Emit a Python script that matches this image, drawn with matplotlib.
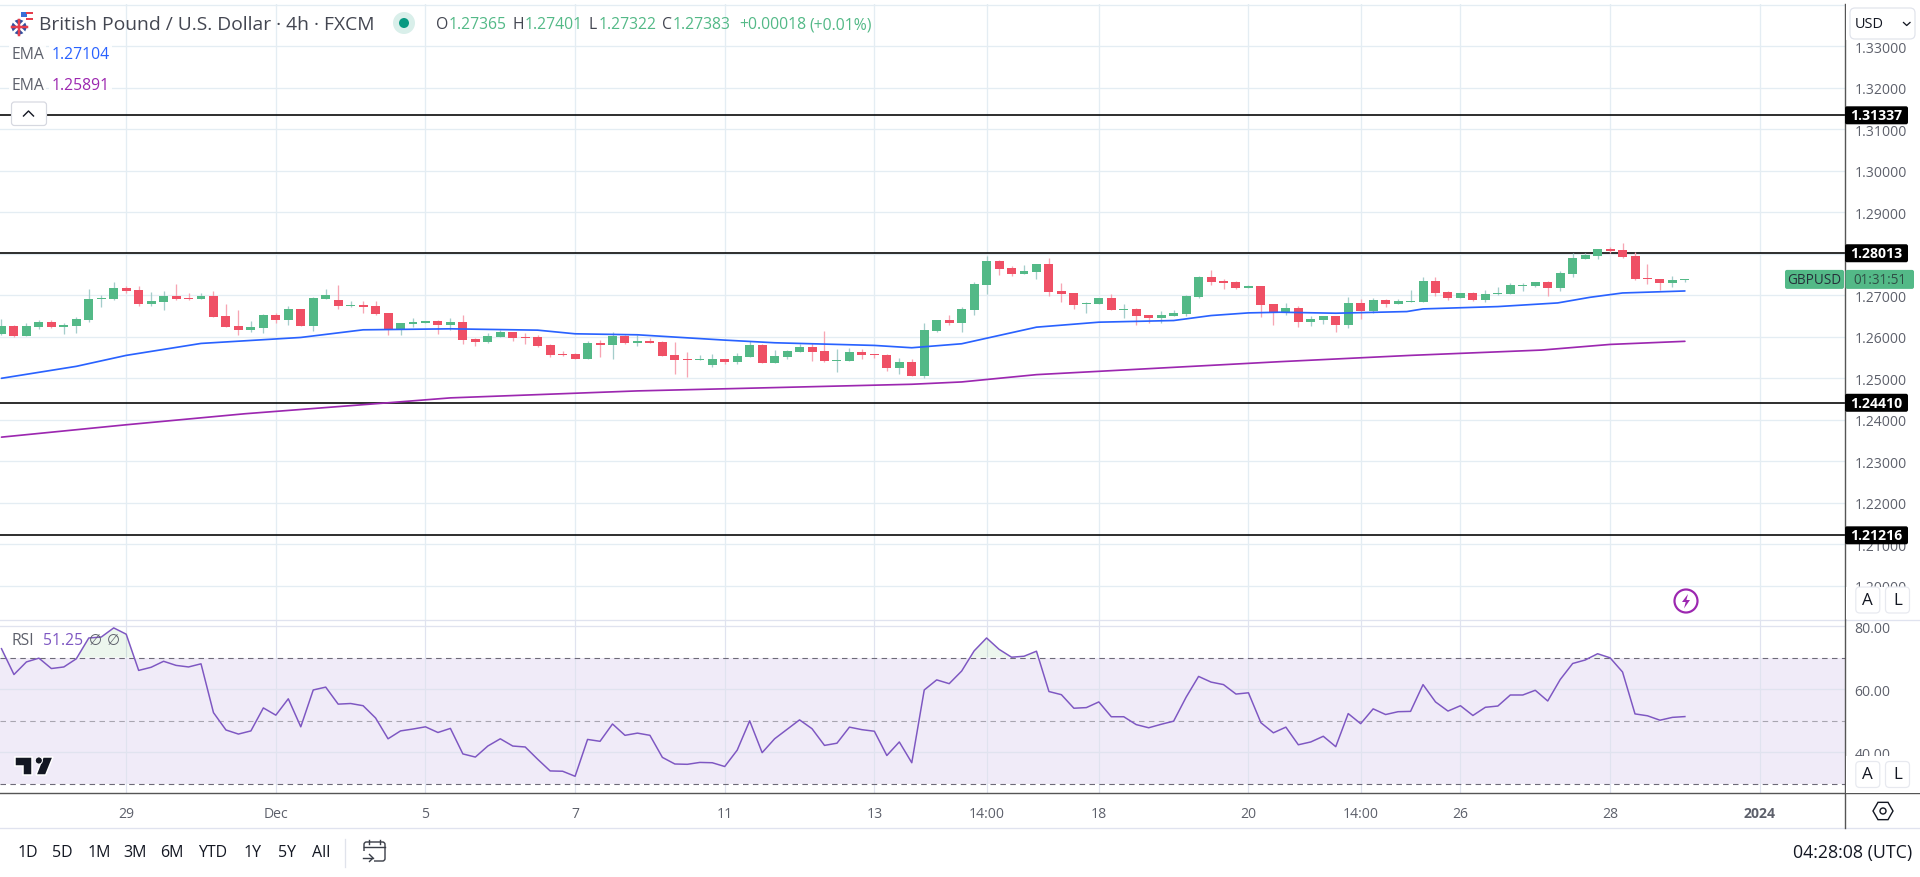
import matplotlib
matplotlib.use("Agg")
import matplotlib.pyplot as plt
import numpy as np
from matplotlib.patches import FancyBboxPatch, Circle, Rectangle, Polygon, RegularPolygon

plt.rcParams['font.family'] = ['Open Sans', 'DejaVu Sans']

opens = [1.26072,1.26264,1.26024,1.26240,1.26360,1.26240,1.26264,1.26408,1.26912,1.26912,
 1.27176,1.27128,1.26792,1.26840,1.26984,1.26936,1.26912,1.26984,1.26504,1.26264,
 1.26168,1.26216,1.26528,1.26408,1.26672,1.26264,1.26912,1.26888,1.26744,1.26768,
 1.26744,1.26576,1.26192,1.26312,1.26336,1.26384,1.26288,1.26360,1.25952,1.25880,
 1.26000,1.26120,1.26000,1.26000,1.25808,1.25592,1.25592,1.25472,1.25856,1.25808,
 1.26024,1.25856,1.25904,1.25880,1.25568,1.25472,1.25448,1.25328,1.25472,1.25400,
 1.25520,1.25808,1.25376,1.25520,1.25640,1.25760,1.25664,1.25424,1.25424,1.25640,
 1.25592,1.25568,1.25256,1.25400,1.25064,1.26144,1.26408,1.26336,1.26648,1.27248,
 1.27824,1.27656,1.27512,1.27560,1.27752,1.27104,1.27056,1.26792,1.26792,1.26936,
 1.26648,1.26672,1.26528,1.26456,1.26504,1.26552,1.26960,1.27440,1.27344,1.27320,
 1.27176,1.27224,1.26792,1.26576,1.26696,1.26360,1.26408,1.26504,1.26288,1.26816,
 1.26624,1.26888,1.26792,1.26840,1.26840,1.27344,1.27080,1.26936,1.27056,1.26888,
 1.27032,1.27032,1.27224,1.27224,1.27320,1.27176,1.27512,1.27872,1.27944,1.28112,
 1.28088,1.27944,1.27416,1.27392,1.27296,1.27365]
highs = [1.26432,1.26288,1.26328,1.26408,1.26408,1.26328,1.26480,1.27152,1.27008,1.27320,
 1.27224,1.27224,1.27080,1.27104,1.27272,1.27056,1.27056,1.27104,1.26792,1.26648,
 1.26384,1.26552,1.26576,1.26744,1.26672,1.26960,1.27152,1.27248,1.26864,1.26864,
 1.26864,1.26576,1.26336,1.26456,1.26384,1.26408,1.26456,1.26528,1.25976,1.26096,
 1.26152,1.26120,1.26096,1.26048,1.25832,1.25664,1.25616,1.25904,1.25928,1.26120,
 1.26048,1.26048,1.25976,1.25904,1.25880,1.25640,1.25568,1.25592,1.25472,1.25616,
 1.25904,1.25832,1.25688,1.25688,1.25832,1.25856,1.26144,1.25712,1.25736,1.25712,
 1.25592,1.25592,1.25496,1.25472,1.26336,1.26408,1.26528,1.26720,1.27320,1.27944,
 1.27848,1.27704,1.27728,1.27752,1.27896,1.27296,1.27056,1.26840,1.26936,1.27032,
 1.26792,1.26696,1.26528,1.26624,1.26648,1.27008,1.27464,1.27608,1.27392,1.27344,
 1.27240,1.27224,1.26792,1.26816,1.26744,1.26504,1.26504,1.26504,1.26960,1.26912,
 1.26936,1.26912,1.26912,1.27128,1.27440,1.27440,1.27104,1.27056,1.27080,1.27128,
 1.27200,1.27296,1.27296,1.27320,1.27344,1.27584,1.28016,1.28016,1.28112,1.28160,
 1.28256,1.28040,1.27752,1.27392,1.27464,1.27401]
lows = [1.26032,1.26000,1.26024,1.26192,1.26216,1.26072,1.26096,1.26360,1.26720,1.26888,
 1.27056,1.26744,1.26744,1.26648,1.26888,1.26888,1.26912,1.26480,1.26240,1.26048,
 1.26120,1.26096,1.26336,1.26288,1.26264,1.26144,1.26912,1.26672,1.26720,1.26576,
 1.26528,1.26048,1.26048,1.26240,1.26336,1.26072,1.26168,1.25832,1.25784,1.25856,
 1.26000,1.25904,1.25832,1.25760,1.25520,1.25544,1.25472,1.25472,1.25520,1.25472,
 1.25832,1.25784,1.25856,1.25544,1.25112,1.25040,1.25448,1.25280,1.25352,1.25352,
 1.25520,1.25376,1.25376,1.25472,1.25640,1.25424,1.25400,1.25160,1.25424,1.25472,
 1.25496,1.25184,1.25112,1.25064,1.25016,1.26120,1.26288,1.26120,1.26528,1.27032,
 1.27488,1.27464,1.27512,1.27392,1.26984,1.26840,1.26672,1.26576,1.26792,1.26648,
 1.26456,1.26288,1.26336,1.26336,1.26504,1.26504,1.26936,1.27248,1.27152,1.27152,
 1.27176,1.26480,1.26288,1.26528,1.26240,1.26264,1.26312,1.26120,1.26216,1.26432,
 1.26576,1.26720,1.26792,1.26840,1.26840,1.26984,1.26888,1.26936,1.26864,1.26840,
 1.27008,1.27032,1.27104,1.27200,1.26984,1.27104,1.27440,1.27872,1.27872,1.28016,
 1.27896,1.27368,1.27272,1.27128,1.27200,1.27322]
closes = [1.26264,1.26024,1.26264,1.26360,1.26240,1.26288,1.26432,1.26912,1.26936,1.27176,
 1.27104,1.26792,1.26864,1.26984,1.26912,1.26912,1.26984,1.26480,1.26240,1.26168,
 1.26240,1.26528,1.26408,1.26672,1.26264,1.26936,1.27008,1.26744,1.26768,1.26720,
 1.26552,1.26192,1.26336,1.26360,1.26384,1.26288,1.26360,1.25928,1.25880,1.26024,
 1.26120,1.25976,1.25976,1.25784,1.25568,1.25568,1.25472,1.25856,1.25808,1.26024,
 1.25856,1.25904,1.25856,1.25544,1.25448,1.25448,1.25472,1.25472,1.25400,1.25544,
 1.25808,1.25376,1.25544,1.25664,1.25760,1.25640,1.25424,1.25448,1.25640,1.25568,
 1.25568,1.25256,1.25400,1.25064,1.26168,1.26408,1.26336,1.26672,1.27272,1.27824,
 1.27632,1.27512,1.27584,1.27752,1.27080,1.27032,1.26768,1.26816,1.26936,1.26648,
 1.26672,1.26504,1.26456,1.26528,1.26576,1.26984,1.27440,1.27320,1.27296,1.27176,
 1.27224,1.26768,1.26576,1.26696,1.26360,1.26432,1.26504,1.26288,1.26816,1.26624,
 1.26888,1.26792,1.26864,1.26864,1.27344,1.27056,1.26936,1.27056,1.26888,1.27032,
 1.27056,1.27248,1.27248,1.27320,1.27176,1.27536,1.27896,1.27968,1.28112,1.28064,
 1.27920,1.27392,1.27392,1.27296,1.27368,1.27383]

ema_fast_bars = [0,6,10,16,24,29,36,43,46,51,58,62,70,73,77,80,83,88,94,97,100,102.5,107,112.7,114,120,124.8,127.4,130,135]
ema_fast = [1.25000,1.25288,1.25552,1.25840,1.25984,1.26168,1.26192,1.26160,1.26072,1.26048,
 1.25920,1.25856,1.25792,1.25736,1.25832,1.26032,1.26232,1.26352,1.26392,1.26512,
 1.26576,1.26592,1.26568,1.26608,1.26672,1.26728,1.26816,1.26952,1.27056,1.27104]
ema_slow_bars = [0,10,19.5,31,36,51,73,77,83,102.5,113,123.5,129,135]
ema_slow = [1.23582,1.23880,1.24145,1.24410,1.24528,1.24696,1.24856,1.24912,1.25088,1.25400,
 1.25552,1.25680,1.25816,1.25891]

rsi = [72.8,64.6,68.6,69.8,66.5,67.0,69.6,76.2,76.5,79.4,77.4,65.9,66.9,68.8,67.5,67.0,68.0,52.5,47.0,45.7,
 46.7,54.0,51.7,56.9,48.0,59.7,60.6,55.2,55.4,54.7,50.8,44.2,46.7,47.3,48.0,46.2,47.5,39.4,38.4,41.9,
 44.2,41.9,41.6,37.7,34.0,33.9,32.3,44.0,43.4,48.9,45.3,46.0,45.3,38.3,36.2,36.1,36.7,36.6,35.4,40.6,
 49.9,39.8,44.2,47.2,50.2,47.4,42.1,42.8,47.9,47.1,46.6,38.9,43.2,36.6,59.7,62.9,61.7,65.7,72.1,76.2,
 72.6,70.1,70.4,72.0,59.2,58.2,53.9,54.1,55.9,51.2,51.2,48.7,47.7,48.8,49.8,57.4,64.0,62.2,61.4,58.4,
 58.8,49.3,46.1,47.9,42.3,43.2,45.0,41.7,52.2,49.0,53.7,51.9,52.8,52.9,61.4,55.9,53.0,54.7,51.6,54.2,
 54.6,58.1,58.1,59.6,56.2,63.0,68.1,69.2,71.2,69.9,65.4,52.1,51.5,50.1,51.0,51.25]

levels = [1.31337, 1.28013, 1.24410, 1.21216]
level_labels = ["1.31337", "1.28013", "1.24410", "1.21216"]
price_ticks = [1.33,1.32,1.31,1.30,1.29,1.28,1.27,1.26,1.25,1.24,1.23,1.22,1.21,1.20]
hidden_price_ticks = [1.28]
grid_prices = price_ticks + [1.34]
rsi_ticks = [80, 60, 40]
time_bars = [10,22,34,46,58,70,79,88,100,109,117,129,141]
time_labels = ["29","Dec","5","7","11","13","14:00","18","20","14:00","26","28","2024"]
range_labels = ["1D","5D","1M","3M","6M","YTD","1Y","5Y","All"]

W, H = 1920, 878
GREEN, RED = "#53b987", "#ef5065"
GREEN_W, RED_W = "#a5cdcb", "#f7a5b3"
GRID = "#e4edf3"
GRID2 = "#e0e3ef"
PURPLE = "#7e57c2"
TXT = "#5d606b"
fs = lambda px: px * 0.72
lw = lambda px: px * 0.72

fig = plt.figure(figsize=(W/100, H/100), dpi=100, facecolor="white")
def axpx(x0, y0, x1, y1, **k):
    return fig.add_axes([x0/W, 1-y1/H, (x1-x0)/W, (y1-y0)/H], **k)

ax = axpx(0, 5, 1845, 620.7)
ar = axpx(0, 620.7, 1845, 794.3, sharex=ax)
xlim = (-0.12, 147.84)
x = np.arange(len(opens))

# price pane
ax.set_xlim(*xlim)
ax.set_ylim(1.19183, 1.34019)
for a in (ax, ar):
    for s in a.spines.values():
        s.set_visible(False)
for p in grid_prices:
    ax.axhline(p, color=GRID, lw=lw(1.3), zorder=1)
for b in time_bars:
    ax.axvline(b, color=GRID, lw=lw(1.3), zorder=1)
    ar.axvline(b, color=GRID2, lw=lw(1.2), zorder=1)
for lv in levels:
    ax.axhline(lv, color="black", lw=lw(1.6), zorder=2)
o, h, l, c = map(np.array, (opens, highs, lows, closes))
up = c >= o
ax.vlines(x[up], l[up], h[up], color=GREEN_W, lw=lw(1.3), zorder=3)
ax.vlines(x[~up], l[~up], h[~up], color=RED_W, lw=lw(1.3), zorder=3)
ax.bar(x[up], (c-o)[up], bottom=o[up], width=0.72, color=GREEN, lw=0, zorder=4)
ax.bar(x[~up], (o-c)[~up], bottom=c[~up], width=0.72, color=RED, lw=0, zorder=4)
ax.plot(ema_fast_bars, ema_fast, color="#2962ff", lw=lw(1.7), zorder=5, solid_capstyle="round")
ax.plot(ema_slow_bars, ema_slow, color="#9c27b0", lw=lw(1.7), zorder=5, solid_capstyle="round")
ax.yaxis.tick_right()
ax.set_yticks(price_ticks)
ax.set_yticklabels(["" if t in hidden_price_ticks else f"{t:.5f}" for t in price_ticks], fontsize=fs(14), color=TXT)
ax.tick_params(axis="y", length=0, pad=7)
ax.tick_params(axis="x", length=0, labelbottom=False)

# RSI pane
ar.set_ylim(26.9, 82.0)
ar.axhspan(30, 70, color=PURPLE, alpha=0.115, lw=0, zorder=0)
for t in rsi_ticks:
    ar.axhline(t, color=GRID2, lw=lw(1.3), zorder=1)
for t, col in ((70, "#6d6a78"), (50, "#a8a5b0"), (30, "#6d6a78")):
    ar.axhline(t, color=col, lw=lw(1.1), ls=(0, (5, 4)), zorder=2)
rs = np.array(rsi)
ar.fill_between(x, 70, rs, where=rs >= 70, interpolate=True, color="#4caf50", alpha=0.10, lw=0, zorder=2)
ar.plot(x, rsi, color=PURPLE, lw=lw(1.5), zorder=3)
ar.yaxis.tick_right()
ar.set_yticks(rsi_ticks)
ar.set_yticklabels([f"{t:.2f}" for t in rsi_ticks], fontsize=fs(14), color=TXT)
ar.tick_params(axis="y", length=0, pad=7)
ar.set_xticks(time_bars)
ar.set_xticklabels(time_labels, fontsize=fs(14), color=TXT)
ar.tick_params(axis="x", length=0, pad=9)
for lab in ar.get_xticklabels():
    if lab.get_text() == "2024":
        lab.set_fontweight("bold")

# overlay in pixel coordinates for the interface chrome
ov = fig.add_axes([0, 0, 1, 1], zorder=10)
ov.set_xlim(0, W); ov.set_ylim(H, 0); ov.axis("off"); ov.patch.set_alpha(0)
fig.canvas.draw()
def py(p):
    return H - ax.transData.transform((0, p))[1]

ov.plot([0, W], [620.7, 620.7], color=GRID2, lw=lw(1.3))
ov.plot([0, 1920], [794.3, 794.3], color="#555555", lw=lw(1.4))
ov.plot([0, 1920], [829, 829], color=GRID2, lw=lw(1.3))
ov.plot([1845, 1845], [5, 829], color="#555555", lw=lw(1.4))

def rbox(x0, y0, x1, y1, fc, ec="none", r=3, lwd=1.0, z=3):
    ov.add_patch(FancyBboxPatch((x0+r, y0+r), x1-x0-2*r, y1-y0-2*r,
                 boxstyle=f"round,pad={r}", fc=fc, ec=ec, lw=lw(lwd), zorder=z))

# masks clipping axis labels under the buttons
ov.add_patch(Rectangle((1846, 0), 74, 41, fc="white", ec="none", zorder=2))
ov.add_patch(Rectangle((1846, 588), 74, 32, fc="white", ec="none", zorder=2))
ov.add_patch(Rectangle((1846, 757), 74, 36.5, fc="white", ec="none", zorder=2))

# level tags
for lv, t in zip(levels, level_labels):
    yy = py(lv)
    rbox(1845, yy-9, 1908, yy+9, "black", r=2)
    ov.text(1876.5, yy, t, color="white", fontsize=fs(14), fontweight="bold", ha="center", va="center", zorder=4)

# last price tag
yy = py(closes[-1])
rbox(1785, yy-9.5, 1844, yy+9.5, GREEN, r=2)
rbox(1845.5, yy-9.5, 1914, yy+9.5, GREEN, r=2)
ov.text(1814.5, yy, "GBPUSD", color="#26303a", fontsize=fs(13.5), ha="center", va="center", zorder=4)
ov.text(1880, yy, "01:31:51", color="#2f4f45", fontsize=fs(13.5), ha="center", va="center", zorder=4)

# header
ov.add_patch(Circle((19, 28), 7.5, fc="#2f4f9f", ec="none", zorder=3))
ov.plot([13.5, 24.5], [22.5, 33.5], color="white", lw=lw(2.5), zorder=4)
ov.plot([13.5, 24.5], [33.5, 22.5], color="white", lw=lw(2.5), zorder=4)
ov.plot([11.5, 26.5], [28, 28], color="#e53e4d", lw=lw(2.5), zorder=5)
ov.plot([19, 19], [20.5, 35.5], color="#e53e4d", lw=lw(2.5), zorder=5)
ov.add_patch(Circle((26.5, 18), 5.8, fc="white", ec="none", zorder=2.8))
ov.add_patch(Rectangle((21, 12.5), 5.5, 5.5, fc="#3b6fd6", ec="none", zorder=3))
ov.plot([26.5, 32], [14, 14], color="#e53e4d", lw=lw(2), zorder=3)
ov.plot([26.5, 32], [20, 20], color="#e53e4d", lw=lw(2), zorder=3)
ov.text(39, 25, "British Pound / U.S. Dollar · 4h · FXCM", color="#434651", fontsize=fs(19.3), ha="left", va="center", zorder=4)
ov.add_patch(Circle((404, 24), 11, fc="#d9efea", ec="none", zorder=3))
ov.add_patch(Circle((404, 24), 5, fc="#089981", ec="none", zorder=4))
VAL = "#53b987"
HF = 15.7
for xx, k, v, dx in ((436, "O", "1.27365", 13), (513, "H", "1.27401", 12), (589, "L", "1.27322", 10), (662, "C", "1.27383", 11)):
    ov.text(xx, 25, k, color="#434651", fontsize=fs(HF), ha="left", va="center", zorder=4)
    ov.text(xx+dx, 25, v, color=VAL, fontsize=fs(HF), ha="left", va="center", zorder=4)
ov.text(739, 25, "+0.00018", color=VAL, fontsize=fs(HF), ha="left", va="center", zorder=4)
ov.text(809, 25, "(+0.01%)", color=VAL, fontsize=fs(HF), ha="left", va="center", zorder=4)

wbg = dict(fc="white", ec="none", pad=1.5, alpha=0.9)
ov.text(11.5, 55, "EMA", color="#5d606b", fontsize=fs(HF), ha="left", va="center", zorder=4, bbox=wbg)
ov.text(51.5, 55, "1.27104", color="#2962ff", fontsize=fs(HF), ha="left", va="center", zorder=4, bbox=wbg)
ov.text(11.5, 85.5, "EMA", color="#5d606b", fontsize=fs(HF), ha="left", va="center", zorder=4, bbox=wbg)
ov.text(51.5, 85.5, "1.25891", color="#9c27b0", fontsize=fs(HF), ha="left", va="center", zorder=4, bbox=wbg)
rbox(11.5, 103, 46.5, 126.5, "white", ec="#d6d8e0", r=3, lwd=1.2)
ov.plot([23.5, 28.5, 33.5], [117, 112, 117], color="#131722", lw=lw(1.4), zorder=4)

# USD button
rbox(1850, 9, 1915, 40, "white", ec="#e0e3eb", r=5, lwd=1.2)
ov.text(1855, 24.5, "USD", color="#131722", fontsize=fs(14.5), ha="left", va="center", zorder=4)
ov.plot([1903.5, 1906.7, 1910], [23.5, 26.5, 23.5], color="#131722", lw=lw(1.3), zorder=4)

# A / L buttons
for yc in (601, 775.5):
    for xc, t in ((1867.8, "A"), (1897.5, "L")):
        rbox(xc-12, yc-13, xc+12, yc+13, "white", ec="#e7e9ef", r=4, lwd=1.2)
        ov.text(xc, yc, t, color="#131722", fontsize=fs(17), ha="center", va="center", zorder=4)

# lightning icon
ov.add_patch(Circle((1686, 602), 11.5, fc="white", ec="#9c27b0", lw=lw(2.2), zorder=3))
ov.add_patch(Polygon([(1688, 595), (1682, 603), (1685.7, 603), (1684, 609.5), (1690, 601), (1686.4, 601)],
                     closed=True, fc="#9c27b0", ec="none", zorder=4))

# RSI legend
ov.text(11.5, 641, "RSI", color="#5d606b", fontsize=fs(HF), ha="left", va="center", zorder=4)
ov.text(43.5, 641, "51.25", color=PURPLE, fontsize=fs(HF), ha="left", va="center", zorder=4)
ov.text(95, 641, "∅", color="#5d606b", fontsize=fs(15), ha="center", va="center", zorder=4, family=["DejaVu Sans"])
ov.text(113, 641, "∅", color="#5d606b", fontsize=fs(15), ha="center", va="center", zorder=4, family=["DejaVu Sans"])

# TradingView logo
for poly in ([(14.7, 758), (32, 758), (32, 776), (23, 776), (23, 767), (14.7, 767)],
             [(43, 758), (53, 758), (45.7, 776), (36, 776)]):
    ov.add_patch(Polygon(poly, closed=True, fc="#131722", ec="white", lw=lw(1.5), zorder=5))
ov.add_patch(Circle((38.8, 761.5), 3.6, fc="#131722", ec="white", lw=lw(1), zorder=5))

# settings hexagon
ov.add_patch(RegularPolygon((1883, 812), 6, radius=10, orientation=np.pi/6, fc="white", ec="#131722", lw=lw(1.4), zorder=4))
ov.add_patch(Circle((1883, 812), 3, fc="white", ec="#131722", lw=lw(1.4), zorder=5))

# bottom toolbar
for xc, t in zip((27.8, 62.4, 98.8, 135, 171.4, 212.7, 253, 287, 321.6), range_labels):
    ov.text(xc, 853.5, t, color="#131722", fontsize=fs(16), ha="center", va="center", zorder=4)
ov.plot([345, 345], [840, 868], color="#e0e3eb", lw=lw(1.3), zorder=3)
rbox(364, 843, 385, 862, "white", ec="#3a3e48", r=2.5, lwd=1.4)
ov.plot([364, 385], [848, 848], color="#3a3e48", lw=lw(1.4), zorder=4)
ov.plot([369, 369], [841, 845], color="#3a3e48", lw=lw(1.4), zorder=4)
ov.plot([380, 380], [841, 845], color="#3a3e48", lw=lw(1.4), zorder=4)
ov.add_patch(Rectangle((361, 852), 13, 13, fc="white", ec="none", zorder=4))
ov.plot([363, 373], [859, 859], color="#3a3e48", lw=lw(1.4), zorder=5)
ov.plot([369.5, 373, 369.5], [855.5, 859, 862.5], color="#3a3e48", lw=lw(1.4), zorder=5)
ov.text(1912, 853.5, "04:28:08 (UTC)", color="#131722", fontsize=fs(17.7), ha="right", va="center", zorder=4)

fig.savefig("out.png", dpi=100, facecolor="white")
